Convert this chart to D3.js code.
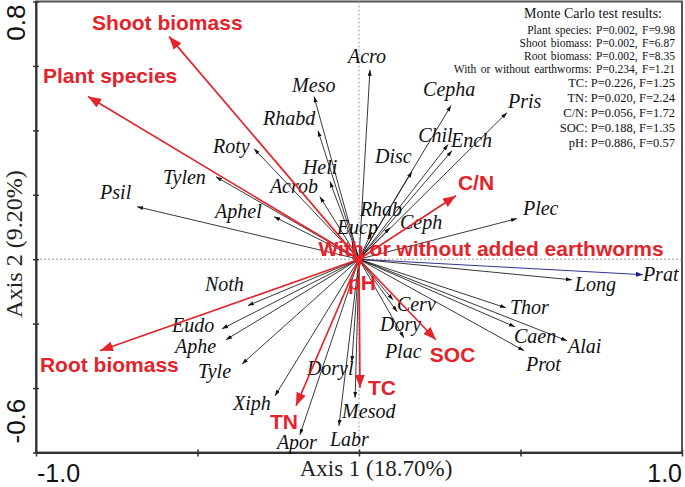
<!DOCTYPE html>
<html><head><meta charset="utf-8">
<script src="https://cdn.jsdelivr.net/npm/d3@7"></script>
<style>body{margin:0;background:#fff}svg{display:block}</style>
</head><body>
<svg id="c" width="685" height="487"></svg>
<script>
// ---- data ----
const species = ["Acro","Meso","Rhabd","Roty","Tylen","Heli","Acrob","Psil","Aphel","Cepha","Pris","Chil","Ench","Disc","Rhab","Eucp","Ceph","Plec","Prat","Long","Thor","Caen","Alai","Prot","Cerv","Dory","Plac","Doryl","Mesod","Labr","Apor","Xiph","Tyle","Aphe","Eudo","Noth"];
const speciesAxis1 = [0.034,-0.139,-0.127,-0.325,-0.443,-0.090,-0.121,-0.687,-0.263,0.285,0.458,0.276,0.288,0.164,0.040,-0.022,0.096,0.489,0.879,0.659,0.455,0.483,0.644,0.511,0.105,0.118,0.139,-0.022,-0.012,-0.062,-0.183,-0.260,-0.362,-0.412,-0.424,-0.344];
const speciesAxis2 = [0.588,0.505,0.399,0.343,0.256,0.241,0.194,0.163,0.132,0.477,0.455,0.356,0.337,0.272,0.085,0.054,0.098,0.126,-0.048,-0.064,-0.151,-0.210,-0.253,-0.284,-0.126,-0.163,-0.244,-0.318,-0.430,-0.517,-0.545,-0.424,-0.325,-0.250,-0.216,-0.144];
const envNames = ["Plant species","Shoot biomass","Root biomass","With or without added earthworms","TC","TN","C/N","SOC","pH"];
const envAxis1 = [-0.839,-0.588,-0.802,0.020,0.003,-0.195,0.300,0.238,0.000];
const envAxis2 = [0.505,0.691,-0.284,0.015,-0.399,-0.455,0.197,-0.250,-0.030];
const mcNames = ["Plant species","Shoot biomass","Root biomass","With or without earthworms","TC","TN","C/N","SOC","pH"];
const mcP = ["0.002","0.002","0.002","0.234","0.226","0.020","0.056","0.188","0.886"];
const mcF = ["9.98","6.87","8.35","1.21","1.25","2.24","1.72","1.35","0.57"];
const xTickValues = [-1,-0.5,0,0.5,1];
const yTickValues = [-0.6,-0.4,-0.2,0,0.2,0.4,0.6,0.8];
const xTickLabels = ["-1.0","1.0"];
const yTickLabels = ["0.8","-0.6"];
const xTitle = "Axis 1 (18.70%)";
const yTitle = "Axis 2 (9.20%)";
const mcTitle = "Monte Carlo test results:";

// ---- layout (label offsets in px from arrow tip) ----
const spOff = {Acro:[-22,-7],Meso:[-22,-5],Rhabd:[-55,-6],Roty:[-41,4],Tylen:[-53,7],Heli:[-27,-8],Acrob:[-50,-4],Psil:[-37,-8],Aphel:[-59,1],Cepha:[-28,-10],Pris:[1,-5],Chil:[-30,-3],Ench:[-1,-4],Disc:[-37,-9],Rhab:[-12,-16],Eucp:[-15,-8],Ceph:[10,1],Plec:[6,-4],Prat:[0,6],Long:[3,11],Thor:[4,6],Caen:[-1,16],Alai:[1,12],Prot:[2,20],Cerv:[4,11],Dory:[-17,19],Plac:[-19,20],Doryl:[-45,13],Mesod:[-13,20],Labr:[-9,20],Apor:[-23,14],Xiph:[-42,14],Tyle:[-44,14],Aphe:[-51,13],Eudo:[-50,3],Noth:[-43,-15]};
const envOff = {"Plant species":[-45,-14],"Shoot biomass":[-77,-7],"Root biomass":[-60,21],"With or without added earthworms":[-47,2],"TC":[8,7],"TN":[-26,23],"C/N":[2,-6],"SOC":[-6,22],"pH":[-11,21]};
const mcY = [34,47,60,73,87,102,117,132,147];

const svg = d3.select("#c");
const x = d3.scaleLinear().domain([-1,1]).range([36,682]);
const y = d3.scaleLinear().domain([-0.6,0.8]).range([452.5,1.5]);
const RED = "#e5232b";

// frame
svg.append("rect").attr("x",36).attr("y",1.5).attr("width",646).attr("height",451)
  .attr("fill","none").attr("stroke","#555").attr("stroke-width",2);

// crosshair
svg.append("line").attr("x1",x(-1)).attr("x2",x(1)).attr("y1",y(0)).attr("y2",y(0))
  .attr("stroke","#999").attr("stroke-width",1).attr("stroke-dasharray","2,2");
svg.append("line").attr("x1",x(0)).attr("x2",x(0)).attr("y1",y(0.8)).attr("y2",y(-0.6))
  .attr("stroke","#999").attr("stroke-width",1).attr("stroke-dasharray","2,2");

// axes
const xa = svg.append("g").attr("transform",`translate(0,${y(-0.6)})`)
  .call(d3.axisBottom(x).tickValues(xTickValues).tickFormat("").tickSizeInner(4).tickSizeOuter(0));
xa.selectAll(".tick line").attr("y1",-3).attr("stroke","#333").attr("stroke-width",1.5);
xa.select(".domain").attr("stroke","#333").attr("stroke-width",2);
const ya = svg.append("g").attr("transform",`translate(${x(-1)},0)`)
  .call(d3.axisLeft(y).tickValues(yTickValues).tickFormat("").tickSizeInner(3).tickSizeOuter(0));
ya.selectAll(".tick line").attr("x1",3).attr("stroke","#333").attr("stroke-width",1.5);
ya.select(".domain").attr("stroke","#333").attr("stroke-width",2);

// tick labels (ends only)
svg.append("text").attr("x",x(-1)+1).attr("y",482).attr("font-family","Liberation Sans, Arial").attr("font-size",25).attr("fill","#111").text(xTickLabels[0]);
svg.append("text").attr("x",x(1)).attr("y",482).attr("text-anchor","end").attr("font-family","Liberation Sans, Arial").attr("font-size",25).attr("fill","#111").text(xTickLabels[1]);
svg.append("text").attr("transform",`translate(25,${y(0.8)+3}) rotate(-90)`).attr("text-anchor","end").attr("font-family","Liberation Sans, Arial").attr("font-size",26).attr("fill","#111").text(yTickLabels[0]);
svg.append("text").attr("transform",`translate(25,${y(-0.6)-9}) rotate(-90)`).attr("text-anchor","start").attr("font-family","Liberation Sans, Arial").attr("font-size",26).attr("fill","#111").text(yTickLabels[1]);

// axis titles
svg.append("text").attr("x",376).attr("y",476).attr("text-anchor","middle").attr("font-family","Liberation Serif, Times New Roman").attr("font-size",23).attr("fill","#222").text(xTitle);
svg.append("text").attr("transform","translate(22,244) rotate(-90)").attr("text-anchor","middle").attr("font-family","Liberation Serif, Times New Roman").attr("font-size",24).attr("fill","#222").text(yTitle);

// markers
const defs = svg.append("defs");
function marker(id, len, wid, col){
  defs.append("marker").attr("id",id).attr("markerUnits","userSpaceOnUse")
    .attr("viewBox",`0 ${-wid/2} ${len} ${wid}`).attr("refX",len).attr("refY",0)
    .attr("markerWidth",len).attr("markerHeight",wid).attr("orient","auto")
    .append("path").attr("d",`M0,${-wid/2}L${len},0L0,${wid/2}Z`).attr("fill",col);
}
marker("mk","6","4","#111");
marker("mb","7","5","#1c1c8a");
marker("mr","13","10",RED);

const sp = species.map((n,i)=>({n, a1:speciesAxis1[i], a2:speciesAxis2[i]}));
svg.append("g").selectAll("line").data(sp).join("line")
  .attr("x1",x(0)).attr("y1",y(0)).attr("x2",d=>x(d.a1)).attr("y2",d=>y(d.a2))
  .attr("stroke",d=>d.n==="Prat"?"#1c1c8a":"#222").attr("stroke-width",0.9)
  .attr("marker-end",d=>d.n==="Prat"?"url(#mb)":"url(#mk)");
svg.append("g").selectAll("text").data(sp).join("text")
  .attr("x",d=>x(d.a1)+spOff[d.n][0]).attr("y",d=>y(d.a2)+spOff[d.n][1])
  .attr("font-family","Liberation Serif, Times New Roman").attr("font-style","italic")
  .attr("font-size",20).attr("fill","#111").text(d=>d.n);

const env = envNames.map((n,i)=>({n, a1:envAxis1[i], a2:envAxis2[i]}));
svg.append("g").selectAll("line").data(env).join("line")
  .attr("x1",x(0)).attr("y1",y(0)).attr("x2",d=>x(d.a1)).attr("y2",d=>y(d.a2))
  .attr("stroke",RED).attr("stroke-width",1.7).attr("marker-end","url(#mr)");
svg.append("g").selectAll("text").data(env).join("text")
  .attr("x",d=>x(d.a1)+envOff[d.n][0]).attr("y",d=>y(d.a2)+envOff[d.n][1])
  .attr("font-family","Liberation Sans, Arial").attr("font-weight","bold")
  .attr("font-size",21).attr("fill",RED).text(d=>d.n);

// Monte Carlo box
svg.append("text").attr("x",593).attr("y",18).attr("text-anchor","middle")
  .attr("font-family","Liberation Serif, Times New Roman").attr("font-size",14).attr("fill","#111").text(mcTitle);
svg.append("g").selectAll("text").data(mcNames).join("text")
  .attr("x",675).attr("y",(d,i)=>mcY[i]).attr("text-anchor","end")
  .attr("font-family","Liberation Serif, Times New Roman").attr("font-size",(d,i)=>i<4?11.5:12.5)
  .attr("word-spacing",(d,i)=>i<4?"1.5px":"0px").attr("fill","#111")
  .text((d,i)=>`${d}: P=${mcP[i]}, F=${mcF[i]}`);
</script>
</body></html>
